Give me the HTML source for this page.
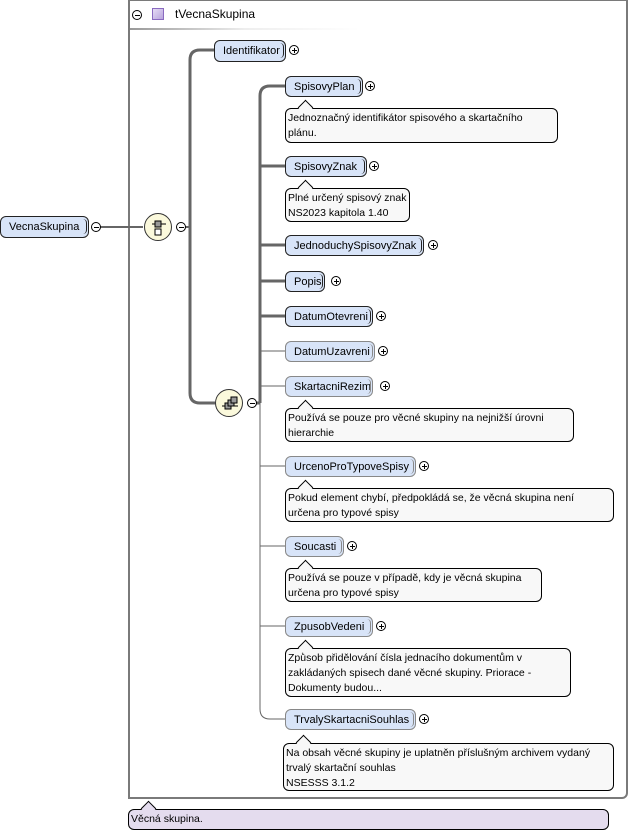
<!DOCTYPE html>
<html><head><meta charset="utf-8"><style>
body{margin:0;width:629px;height:833px;background:#fff;position:relative;overflow:hidden;font-family:"Liberation Sans",Arial,sans-serif;font-size:11px;color:#000}
.el{position:absolute;height:21px;line-height:20px;background:#d8e4f8;border:1px solid #222;border-radius:6px;box-sizing:border-box;padding-left:8px;font-size:11px;white-space:nowrap}
.el:after{content:"";position:absolute;right:1px;top:2px;width:3px;height:15px;border-right:1px solid #222;border-radius:0 5px 5px 0}
.opt,.opt:after{border-color:#888}
.tg{position:absolute;width:10px;height:10px;border:1px solid #000;border-radius:50%;box-sizing:border-box;background:#fff}
.tg:before{content:"";position:absolute;left:1.5px;top:3.5px;width:5px;height:1px;background:#000}
.p:after{content:"";position:absolute;left:3.5px;top:1.5px;width:1px;height:5px;background:#000}
.doc{position:absolute;background:#f8f8f8;border:1px solid #000;border-radius:6px;box-sizing:border-box;padding:2px 2px;font-size:10.5px;line-height:15px;white-space:nowrap}
.doc:before{content:"";position:absolute;left:14px;top:-7px;width:10px;height:10px;background:inherit;border-left:1px solid #000;border-top:1px solid #000;transform:rotate(45deg)}
.circ{position:absolute;width:28px;height:28px;border:1px solid #333;border-radius:50%;background:#fbf9dc;box-sizing:border-box}
</style></head><body>
<div style="position:absolute;left:128px;top:0;width:500px;height:799px;border:2px solid #7a7a7a;border-top-width:1px;border-radius:0 0 6px 0;box-sizing:border-box"></div>
<div style="position:absolute;left:130px;top:28px;width:230px;height:2px;background:linear-gradient(to right,#999,#eee,#fff 100%)"></div>
<div class="tg" style="left:132px;top:10px;"></div>
<div style="position:absolute;left:152px;top:8px;width:12px;height:12px;border:1px solid #8a6ac0;background:linear-gradient(135deg,#e6dcf5,#b8a4dc);box-sizing:border-box"></div>
<div style="position:absolute;left:175px;top:7px;font-size:12px">tVecnaSkupina</div>

<svg width="629" height="833" style="position:absolute;left:0;top:0">
<g fill="none" stroke="#666">
<path d="M100 227H143" stroke-width="2"/>
<path d="M185 227H190" stroke-width="2"/>
<path d="M214 50H200Q190 50 190 60V393Q190 403 200 403H215" stroke-width="3"/>
<path d="M256 403H260" stroke-width="3"/>
<path d="M285 86H270Q260 86 260 96V403" stroke-width="3"/>
<path d="M260 166H285M260 245H285M260 281H285M260 316H285" stroke-width="3"/>
<path d="M260 403V709Q260 719 270 719H285" stroke-width="1"/>
<path d="M260 351H285M260 386H285M260 466H285M260 546H285M260 626H285" stroke-width="1"/>
</g></svg>

<div class="el" style="left:0;top:216px;width:89px;height:22px;line-height:21px">VecnaSkupina</div>
<div class="tg" style="left:91px;top:222px"></div>
<div class="circ" style="left:144px;top:213px"><svg width="28" height="28"><path d="M7 10H21" stroke="#000"/><rect x="10" y="7" width="6" height="6" fill="#999" stroke="#000"/><rect x="10" y="15" width="6" height="6" fill="#fff" stroke="#000"/></svg></div>
<div class="tg" style="left:176px;top:222px"></div>
<div class="el" style="left:214px;top:40px;width:72px;height:22px;line-height:21px">Identifikator</div>
<div class="tg p" style="left:289px;top:45px"></div>
<div class="circ" style="left:215px;top:389px"><svg width="28" height="28"><path d="M6 16H22" stroke="#000"/><rect x="9" y="13" width="6" height="6" fill="#999" stroke="#000"/><rect x="12" y="10" width="6" height="6" fill="#999" stroke="#000"/><rect x="15" y="7" width="6" height="6" fill="#999" stroke="#000"/></svg></div>
<div class="tg" style="left:247px;top:398px"></div>

<div class="el" style="left:285px;top:76px;width:78px">SpisovyPlan</div><div class="tg p" style="left:365px;top:81px"></div>
<div class="doc" style="left:285px;top:108px;width:273px;height:35px">Jednoznačný identifikátor spisového a skartačního<br>plánu.</div>
<div class="el" style="left:285px;top:156px;width:82px">SpisovyZnak</div><div class="tg p" style="left:369px;top:161px"></div>
<div class="doc" style="left:285px;top:188px;width:125px;height:34px">Plně určený spisový znak<br>NS2023 kapitola 1.40</div>
<div class="el" style="left:285px;top:235px;width:139px">JednoduchySpisovyZnak</div><div class="tg p" style="left:428px;top:240px"></div>
<div class="el" style="left:285px;top:271px;width:40px">Popis</div><div class="tg p" style="left:331px;top:276px"></div>
<div class="el" style="left:285px;top:306px;width:88px">DatumOtevreni</div><div class="tg p" style="left:376px;top:311px"></div>
<div class="el opt" style="left:285px;top:341px;width:90px">DatumUzavreni</div><div class="tg p" style="left:378px;top:346px"></div>
<div class="el opt" style="left:285px;top:376px;width:88px">SkartacniRezim</div><div class="tg p" style="left:380px;top:381px"></div>
<div class="doc" style="left:285px;top:408px;width:289px;height:34px">Používá se pouze pro věcné skupiny na nejnižší úrovni<br>hierarchie</div>
<div class="el opt" style="left:285px;top:456px;width:131px">UrcenoProTypoveSpisy</div><div class="tg p" style="left:419px;top:461px"></div>
<div class="doc" style="left:285px;top:488px;width:329px;height:34px">Pokud element chybí, předpokládá se, že věcná skupina není<br>určena pro typové spisy</div>
<div class="el opt" style="left:285px;top:536px;width:59px">Soucasti</div><div class="tg p" style="left:347px;top:541px"></div>
<div class="doc" style="left:285px;top:568px;width:257px;height:34px">Používá se pouze v případě, kdy je věcná skupina<br>určena pro typové spisy</div>
<div class="el opt" style="left:285px;top:616px;width:88px">ZpusobVedeni</div><div class="tg p" style="left:376px;top:621px"></div>
<div class="doc" style="left:285px;top:648px;width:286px;height:49px">Způsob přidělování čísla jednacího dokumentům v<br>zakládaných spisech dané věcné skupiny. Priorace -<br>Dokumenty budou...</div>
<div class="el opt" style="left:285px;top:709px;width:131px">TrvalySkartacniSouhlas</div><div class="tg p" style="left:419px;top:714px"></div>
<div class="doc" style="left:283px;top:743px;width:331px;height:48px">Na obsah věcné skupiny je uplatněn příslušným archivem vydaný<br>trvalý skartační souhlas<br>NSESSS 3.1.2</div>
<div class="doc" style="left:128px;top:809px;width:481px;height:21px;background:#e4dcee;line-height:15px">Věcná skupina.</div>
</body></html>
